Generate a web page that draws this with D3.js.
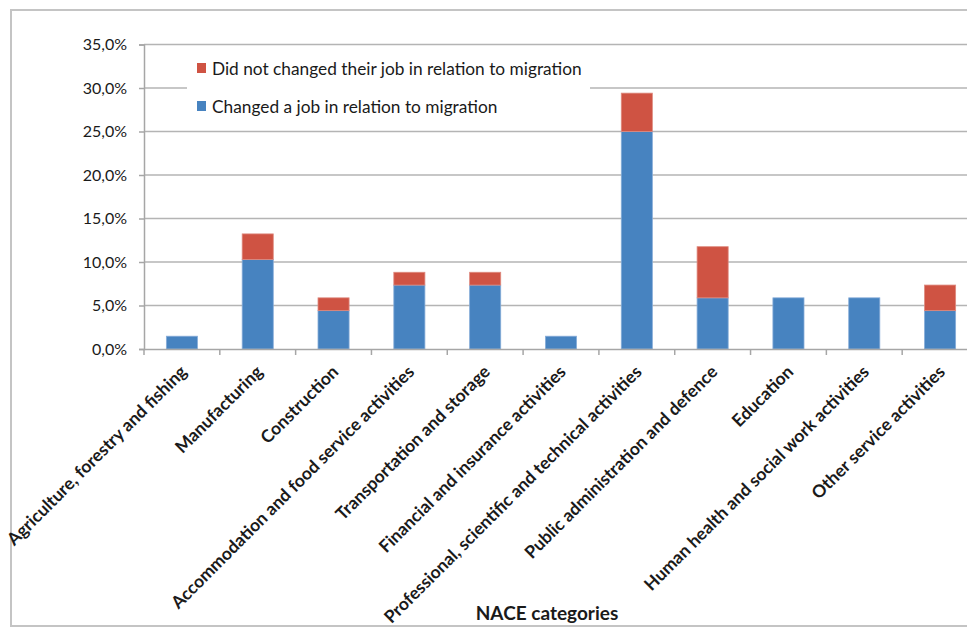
<!DOCTYPE html>
<html>
<head>
<meta charset="utf-8">
<script src="https://cdn.jsdelivr.net/npm/d3@7"></script>
<style>
  body { margin: 0; background: #fff; }
  text { font-family: Lato, "Liberation Sans", sans-serif; fill: #1a1a1a; }
</style>
</head>
<body>
<script>
var categories = [
  "Agriculture, forestry and fishing",
  "Manufacturing",
  "Construction",
  "Accommodation and food service activities",
  "Transportation and storage",
  "Financial and insurance activities",
  "Professional, scientific and technical activities",
  "Public administration and defence",
  "Education",
  "Human health and social work activities",
  "Other service activities"
];
// share of respondents, %
var changedJob    = [1.47, 10.29, 4.41, 7.35, 7.35, 1.47, 25.0, 5.88, 5.88, 5.88, 4.41];
var notChangedJob = [0,    2.94,  1.47, 1.47, 1.47, 0,    4.41, 5.88, 0,    0,    2.94];
var yTicks = [0, 5, 10, 15, 20, 25, 30, 35];
var seriesNames = ["Did not changed their job in relation to migration", "Changed a job in relation to migration"];
var colors = {changed: "#4783c0", notChanged: "#cf5343"};

var width = 967, height = 628;
var margin = {left: 144, right: -11, top: 44.5, bottom: 279};

var svg = d3.select("body").append("svg").attr("width", width).attr("height", height);

// outer frame
svg.append("rect").attr("x", 11).attr("y", 10).attr("width", 970).attr("height", 616)
   .attr("fill", "none").attr("stroke", "#c4c4c4").attr("stroke-width", 2);

var x = d3.scaleBand().domain(categories).range([margin.left, width - margin.right]).paddingInner(0.59).paddingOuter(0.295);
var y = d3.scaleLinear().domain([0, 35]).range([height - margin.bottom, margin.top]);

var data = categories.map(function(c, i){ return {cat: c, changed: changedJob[i], notChanged: notChangedJob[i]}; });
var stack = d3.stack().keys(["changed", "notChanged"])(data);

// gridlines
svg.append("g").selectAll("line").data(yTicks.slice(1)).enter().append("line")
   .attr("x1", margin.left).attr("x2", width)
   .attr("y1", function(d){ return y(d); }).attr("y2", function(d){ return y(d); })
   .attr("stroke", "#b4b4b4").attr("stroke-width", 1.5);

// bars
svg.append("g").selectAll("g").data(stack).enter().append("g")
   .attr("fill", function(s){ return colors[s.key]; })
   .attr("stroke", function(s){ return s.key == "changed" ? "#86acd8" : "#de8a7f"; })
   .attr("stroke-width", 0.8)
   .selectAll("rect").data(function(s){ return s; }).enter().append("rect")
   .filter(function(d){ return d[1] - d[0] > 0; })
   .attr("x", function(d){ return x(d.data.cat); })
   .attr("width", x.bandwidth())
   .attr("y", function(d){ return y(d[1]); })
   .attr("height", function(d){ return y(d[0]) - y(d[1]); });

// y axis
var yAxis = d3.axisLeft(y).tickValues(yTicks).tickSize(5).tickPadding(12)
              .tickFormat(function(d){ return d3.format(".1f")(d).replace(".", ",") + "%"; });
var yg = svg.append("g").attr("transform", "translate(" + margin.left + ",0)").call(yAxis);
yg.select(".domain").attr("stroke", "#a6a6a6").attr("stroke-width", 1.5);
yg.selectAll(".tick line").attr("stroke", "#a6a6a6").attr("stroke-width", 1.5);
yg.selectAll(".tick text").attr("font-size", 16).attr("font-family", "Lato, sans-serif").attr("fill", "#262626");

// x axis
var xAxis = d3.axisBottom(x).tickSize(0).tickFormat("");
var xg = svg.append("g").attr("transform", "translate(0," + y(0) + ")").call(xAxis);
xg.select(".domain").attr("stroke", "#a6a6a6").attr("stroke-width", 1.5);
var step = x.step();
xg.selectAll(".bnd").data(categories).enter().append("line")
  .attr("x1", function(d){ return x(d) - (step - x.bandwidth())/2; })
  .attr("x2", function(d){ return x(d) - (step - x.bandwidth())/2; })
  .attr("y1", 0).attr("y2", 6).attr("stroke", "#a6a6a6").attr("stroke-width", 1.5);

// category labels
svg.append("g").selectAll("text").data(categories).enter().append("text")
   .attr("transform", function(d){ return "translate(" + (x(d) + x.bandwidth()/2 + 6) + "," + (y(0) + 24) + ") rotate(-45)"; })
   .attr("text-anchor", "end")
   .attr("font-size", 17.5).attr("font-weight", "bold")
   .text(function(d){ return d; });

// axis title
svg.append("text").attr("x", 547).attr("y", 620).attr("text-anchor", "middle")
   .attr("font-size", 19).attr("font-weight", "bold").text("NACE categories");

// legend
var lg = svg.append("g");
lg.append("rect").attr("x", 187).attr("y", 55).attr("width", 403).attr("height", 64).attr("fill", "#fff");
var legendItems = [{name: seriesNames[0], color: colors.notChanged}, {name: seriesNames[1], color: colors.changed}];
var li = lg.selectAll("g").data(legendItems).enter().append("g")
   .attr("transform", function(d, i){ return "translate(197," + (63 + i*38) + ")"; });
li.append("rect").attr("width", 9).attr("height", 10).attr("fill", function(d){ return d.color; });
li.append("text").attr("x", 15).attr("y", 11.5).attr("font-size", 17.3).text(function(d){ return d.name; });
</script>
</body>
</html>
